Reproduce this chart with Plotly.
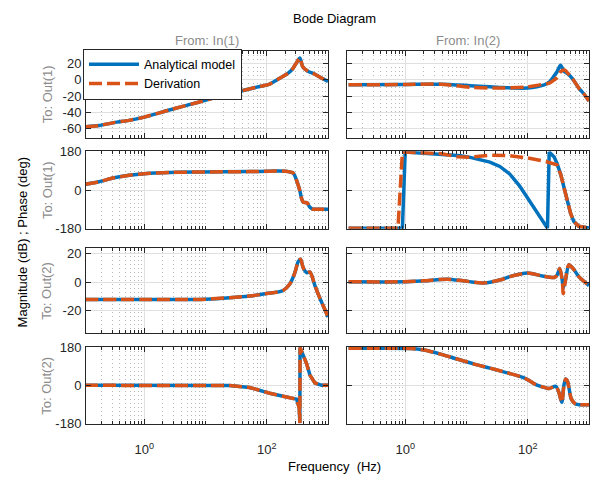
import plotly.graph_objects as go

# ---------------- data ----------------
# Row 1 : To Out(1), magnitude (dB)
f_o1i1_mag = [0.108, 0.183, 0.322, 0.568, 1.0, 2.57, 7.96, 24.7, 76.8, 112, 163, 221, 267, 310, 347, 389, 470, 612, 795, 1000]
model_o1i1_mag = [-57.5, -56, -52.4, -49.6, -45.6, -36.9, -27, -17, -8, -5.1, 2, 8, 14, 21.8, 27, 15.8, 10.7, 7, 2, -2]
deriv_o1i1_mag = [-57.5, -56, -52.4, -49.6, -45.6, -36.9, -27, -17, -8, -5.1, 2, 8, 14, 21.8, 27, 15.8, 10.7, 7, 2, -2]

f_o1i2_mag_model = [0.119, 1.0, 3.77, 11.5, 24.1, 35, 99, 186, 224, 270, 301, 343, 391, 442, 532, 682, 822, 1000]
model_o1i2_mag = [-6, -5.6, -5.2, -7.1, -8.5, -9.2, -9.9, -6, -2.8, 5, 10, 17.9, 10.7, 8, 2, -10, -17, -26]
f_o1i2_mag_deriv = [0.119, 1.0, 3.77, 11.5, 35, 99, 186, 224, 270, 301, 343, 405, 442, 532, 682, 822, 1000]
deriv_o1i2_mag = [-6, -5.6, -5.2, -9.0, -9.9, -8.5, -5.1, -4, 0, 3, 10, 12, 9, 2, -10, -17, -26]

# Row 2 : To Out(1), phase (deg)
f_o1i1_ph = [0.108, 0.183, 0.322, 0.568, 1.0, 2.57, 7.96, 52.4, 112, 198, 270, 310, 347, 371, 394, 458, 507, 560, 640, 1000]
model_o1i1_ph = [27, 39, 57, 69, 76.5, 82, 84, 86, 88, 88, 79, 42, -3, -39, -56, -60, -80, -88, -89, -89]
deriv_o1i1_ph = [27, 39, 57, 69, 76.5, 82, 84, 86, 88, 88, 79, 42, -3, -39, -56, -60, -80, -88, -89, -89]

f_o1i2_ph_model = [0.119, 0.90, 1.0, 3.77, 8.0, 11.5, 16.6, 24.1, 35, 50.7, 73.5, 106, 155, 210, 224, 270, 301, 346, 391, 442, 501, 566, 682, 1000]
model_o1i2_ph = [-177, -177, 177, 168, 160, 152, 140, 130, 110, 75, 20, -50, -120, -177, 177, 154, 124, 72, 12, -48, -108, -146, -168, -176]
f_o1i2_ph_deriv = [0.119, 0.762, 0.90, 3.77, 7.0, 11.5, 24.1, 50.7, 106, 198, 301, 346, 391, 442, 501, 566, 682, 1000]
deriv_o1i2_ph = [-177, -177, 177, 170, 155, 153, 162, 160, 148, 133, 117, 72, 12, -48, -108, -146, -168, -176]

# Row 3 : To Out(2), magnitude (dB)
f_o2i1_mag = [0.108, 1.0, 7.96, 24.7, 52.6, 100, 185, 238, 288, 326, 357, 394, 448, 507, 612, 739, 893, 1000]
model_o2i1_mag = [-12, -12, -12, -10.8, -9.6, -7.9, -5.7, -1.2, 6.8, 14.6, 16.3, 10.2, 6.8, 7.2, -2.3, -11.3, -19.3, -24.4]
deriv_o2i1_mag = [-12, -12, -12, -10.8, -9.6, -7.9, -5.7, -1.2, 6.8, 14.6, 16.3, 10.2, 6.8, 7.2, -2.3, -11.3, -19.3, -24.4]

f_o2i2_mag = [0.119, 0.95, 2.02, 4.83, 8.85, 18.8, 39, 50.7, 99, 173, 270, 301, 333, 367, 380, 416, 471, 566, 682, 1000]
model_o2i2_mag = [0.4, 0.4, 1.1, 2.2, 1.1, -0.5, 2.2, 4, 6.5, 4.5, 3.4, 5, 9.8, 1, -4, 2.2, 12.4, 9, 4, -2.3]
deriv_o2i2_mag = [0.4, 0.4, 1.1, 2.2, 1.1, -0.5, 2.2, 4, 6.5, 4.5, 3.4, 5, 9.8, 1, -8, 2.2, 12.4, 9, 4, -2.3]

# Row 4 : To Out(2), phase (deg)
f_o2i1_ph = [0.108, 1.0, 24.7, 52.4, 76.8, 112, 163, 238, 307, 339, 347, 350, 360, 394, 448, 507, 612, 788, 1000]
model_o2i1_ph = [0, 0, -1, -10, -25, -37, -48, -58, -65, -105, -178, 178, 170, 139, 101, 48, 11, 0, 0]
deriv_o2i1_ph = [0, 0, -1, -10, -25, -37, -48, -58, -65, -105, -178, 178, 170, 139, 101, 48, 11, 0, 0]

f_o2i2_ph = [0.119, 1.24, 2.02, 3.77, 7.0, 13, 24.1, 44.9, 83, 106, 136, 198, 224, 287, 324, 359, 391, 416, 442, 471, 516, 604, 682, 1000]
model_o2i2_ph = [174, 173, 166, 147, 124, 101, 81, 60, 37, 22, 3, -12, -15, -5, -35, -80, 3, 30, 22, -12, -65, -88, -91, -91]
deriv_o2i2_ph = [174, 173, 166, 147, 124, 101, 81, 60, 37, 22, 3, -12, -15, -5, -35, -80, 3, 30, 22, -12, -65, -88, -91, -91]

# tick definitions
x_major = [1, 100]
x_major_text = ["10<sup>0</sup>", "10<sup>2</sup>"]
x_minor = [k * 10 ** n for n in (-1, 0, 1, 2) for k in range(1, 10)
           if k * 10 ** n not in (1, 100) and k * 10 ** n > 0.11]
mag1_ticks = [-60, -40, -20, 0, 20]
mag2_ticks = [-20, 0, 20]
ph_ticks = [-180, 0, 180]

series_names = ["Analytical model", "Derivation"]

# ---------------- layout geometry ----------------
W, H = 590, 481
x_dom = [[86 / W, 328 / W], [347 / W, 589 / W]]
rows_px = [(45, 135), (149, 229), (249, 337), (351, 430)]
y_dom = [[1 - b / H, 1 - t / H] for (t, b) in rows_px]
y_ranges = [[-71, 36], [-180, 180], [-36, 24], [-180, 180]]
y_ticks = [mag1_ticks, ph_ticks, mag2_ticks, ph_ticks]

panels = [
    # (row, col, f_model, model, f_deriv, deriv, shape)
    (0, 0, f_o1i1_mag, model_o1i1_mag, f_o1i1_mag, deriv_o1i1_mag, "spline"),
    (0, 1, f_o1i2_mag_model, model_o1i2_mag, f_o1i2_mag_deriv, deriv_o1i2_mag, "spline"),
    (1, 0, f_o1i1_ph, model_o1i1_ph, f_o1i1_ph, deriv_o1i1_ph, "spline"),
    (1, 1, f_o1i2_ph_model, model_o1i2_ph, f_o1i2_ph_deriv, deriv_o1i2_ph, "linear"),
    (2, 0, f_o2i1_mag, model_o2i1_mag, f_o2i1_mag, deriv_o2i1_mag, "spline"),
    (2, 1, f_o2i2_mag, model_o2i2_mag, f_o2i2_mag, deriv_o2i2_mag, "spline"),
    (3, 0, f_o2i1_ph, model_o2i1_ph, f_o2i1_ph, deriv_o2i1_ph, "linear"),
    (3, 1, f_o2i2_ph, model_o2i2_ph, f_o2i2_ph, deriv_o2i2_ph, "spline"),
]

BLUE = "#0072BD"
ORANGE = "#D95319"
AXC = "#262626"
FONT = "Liberation Sans, Arial, sans-serif"

fig = go.Figure()
layout = {}
for p, (r, c, fm, vm, fd, vd, shape) in enumerate(panels):
    sfx = "" if p == 0 else str(p + 1)
    xa, ya = "x" + sfx, "y" + sfx
    line_m = dict(color=BLUE, width=3.5, shape=shape)
    line_d = dict(color=ORANGE, width=3.5, dash="13px,5px", shape=shape)
    if shape == "spline":
        line_m["smoothing"] = 0.8
        line_d["smoothing"] = 0.8
    fig.add_trace(go.Scatter(x=fm, y=vm, mode="lines", line=line_m, name=series_names[0],
                             showlegend=(p == 0), legendrank=1, xaxis=xa, yaxis=ya))
    fig.add_trace(go.Scatter(x=fd, y=vd, mode="lines", line=line_d, name=series_names[1],
                             showlegend=(p == 0), legendrank=2, xaxis=xa, yaxis=ya))
    layout["xaxis" + sfx] = dict(
        type="log", range=[-0.95, 3.0], domain=x_dom[c], anchor=ya,
        tickmode="array", tickvals=x_major, ticktext=x_major_text,
        showticklabels=(r == 3), ticks="inside", ticklen=5, tickcolor=AXC,
        ticklabelstandoff=14,
        showline=True, linecolor=AXC, linewidth=1, mirror="allticks",
        showgrid=True, gridcolor="#e0e0e0", gridwidth=1, zeroline=False,
        tickfont=dict(family=FONT, size=13, color=AXC),
        minor=dict(tickmode="array", tickvals=x_minor, ticks="inside", ticklen=3,
                   tickcolor=AXC, showgrid=True, griddash="1px,3px", gridcolor="#b8b8b8",
                   gridwidth=1),
    )
    layout["yaxis" + sfx] = dict(
        range=y_ranges[r], domain=y_dom[r], anchor=xa,
        tickmode="array", tickvals=y_ticks[r], ticktext=[str(v) for v in y_ticks[r]],
        showticklabels=(c == 0), ticks="inside", ticklen=5, tickcolor=AXC,
        ticklabelstandoff=1,
        showline=True, linecolor=AXC, linewidth=1, mirror="allticks",
        showgrid=True, gridcolor="#e0e0e0", gridwidth=1, zeroline=False,
        tickfont=dict(family=FONT, size=13, color=AXC),
    )

GRAY = "#8c8c8c"
ann = [
    dict(text="Bode Diagram", x=334 / W, y=1 - 12 / H, font=dict(size=13, color="#000000")),
    dict(text="From: In(1)", x=207 / W, y=1 - 35 / H, font=dict(size=13, color=GRAY)),
    dict(text="From: In(2)", x=468 / W, y=1 - 35 / H, font=dict(size=13, color=GRAY)),
    dict(text="Frequency \u00a0(Hz)", x=334 / W, y=1 - 474 / H, font=dict(size=13, color="#000000")),
    dict(text="Magnitude (dB) ; Phase (deg)", x=22 / W, y=1 - 243 / H, textangle=-90,
         font=dict(size=13, color="#000000")),
    dict(text="To: Out(1)", x=47 / W, y=1 - 90 / H, textangle=-90, font=dict(size=13, color=GRAY)),
    dict(text="To: Out(1)", x=47 / W, y=1 - 189 / H, textangle=-90, font=dict(size=13, color=GRAY)),
    dict(text="To: Out(2)", x=47 / W, y=1 - 293 / H, textangle=-90, font=dict(size=13, color=GRAY)),
    dict(text="To: Out(2)", x=47 / W, y=1 - 391 / H, textangle=-90, font=dict(size=13, color=GRAY)),
]
annotations = []
for a in ann:
    a.update(xref="paper", yref="paper", xanchor="center", yanchor="middle", showarrow=False)
    a["font"]["family"] = FONT
    annotations.append(a)

fig.update_layout(
    width=W, height=H, margin=dict(l=0, r=0, t=0, b=0),
    paper_bgcolor="white", plot_bgcolor="white",
    font=dict(family=FONT, size=13, color=AXC),
    showlegend=True,
    legend=dict(x=83 / W, y=1 - 43 / H, xanchor="left", yanchor="top",
                bgcolor="white", bordercolor=AXC, borderwidth=1,
                font=dict(family=FONT, size=12.5, color="#000000"),
                itemwidth=50, tracegroupgap=0, traceorder="normal"),
    annotations=annotations,
    **layout,
)

fig.write_html("out.html")
